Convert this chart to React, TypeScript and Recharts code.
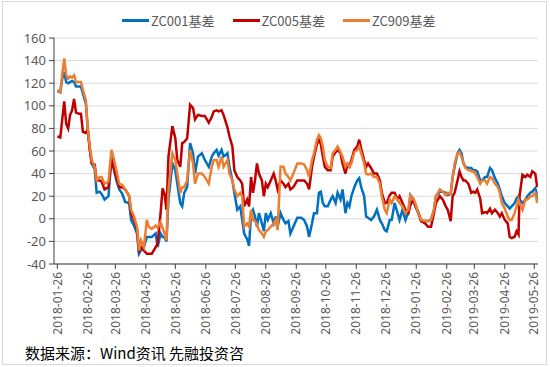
import { LineChart, Line, XAxis, YAxis, CartesianGrid } from "recharts";

// sample dates (roughly every 2-3 days), grouped by month
const dates = [
  "2018-01-26", "2018-01-29", "2018-01-31",
  "2018-02-02", "2018-02-04", "2018-02-06", "2018-02-08", "2018-02-10", "2018-02-12", "2018-02-14", "2018-02-17", "2018-02-19", "2018-02-21", "2018-02-24", "2018-02-26", "2018-02-28",
  "2018-03-02", "2018-03-05", "2018-03-07", "2018-03-10", "2018-03-12", "2018-03-15", "2018-03-19", "2018-03-22", "2018-03-24", "2018-03-27", "2018-03-30",
  "2018-04-02", "2018-04-05", "2018-04-09", "2018-04-11", "2018-04-14", "2018-04-17", "2018-04-19", "2018-04-21", "2018-04-24", "2018-04-27", "2018-04-29",
  "2018-05-02", "2018-05-06", "2018-05-08", "2018-05-11", "2018-05-13", "2018-05-15", "2018-05-17", "2018-05-19", "2018-05-23", "2018-05-26", "2018-05-28", "2018-05-31",
  "2018-06-02", "2018-06-04", "2018-06-07", "2018-06-10", "2018-06-13", "2018-06-15", "2018-06-18", "2018-06-22", "2018-06-25", "2018-06-29",
  "2018-07-02", "2018-07-04", "2018-07-07", "2018-07-09", "2018-07-12", "2018-07-14", "2018-07-18", "2018-07-20", "2018-07-23", "2018-07-25", "2018-07-28", "2018-07-31",
  "2018-08-02", "2018-08-04", "2018-08-07", "2018-08-09", "2018-08-11", "2018-08-13", "2018-08-15", "2018-08-17", "2018-08-19", "2018-08-22", "2018-08-24", "2018-08-26", "2018-08-28", "2018-08-31",
  "2018-09-03", "2018-09-05", "2018-09-07", "2018-09-10", "2018-09-13", "2018-09-15", "2018-09-18", "2018-09-20", "2018-09-23", "2018-09-27",
  "2018-10-01", "2018-10-04", "2018-10-07", "2018-10-09", "2018-10-12", "2018-10-14", "2018-10-17", "2018-10-19", "2018-10-21", "2018-10-23", "2018-10-25", "2018-10-28", "2018-10-31",
  "2018-11-02", "2018-11-05", "2018-11-07", "2018-11-10", "2018-11-12", "2018-11-15", "2018-11-17", "2018-11-19", "2018-11-21", "2018-11-24", "2018-11-27", "2018-11-29",
  "2018-12-01", "2018-12-04", "2018-12-06", "2018-12-08", "2018-12-11", "2018-12-14", "2018-12-17", "2018-12-20", "2018-12-22", "2018-12-25", "2018-12-27", "2018-12-30",
  "2019-01-01", "2019-01-04", "2019-01-07", "2019-01-09", "2019-01-12", "2019-01-15", "2019-01-18", "2019-01-20", "2019-01-23", "2019-01-25", "2019-01-28", "2019-01-31",
  "2019-02-04", "2019-02-07", "2019-02-10", "2019-02-13", "2019-02-15", "2019-02-19", "2019-02-22", "2019-02-25", "2019-02-27",
  "2019-03-02", "2019-03-04", "2019-03-06", "2019-03-09", "2019-03-11", "2019-03-13", "2019-03-15", "2019-03-17", "2019-03-20", "2019-03-23", "2019-03-25", "2019-03-27", "2019-03-29",
  "2019-04-01", "2019-04-03", "2019-04-06", "2019-04-08", "2019-04-11", "2019-04-13", "2019-04-16", "2019-04-19", "2019-04-21", "2019-04-23", "2019-04-26", "2019-04-29",
  "2019-05-01", "2019-05-03", "2019-05-06", "2019-05-08", "2019-05-10", "2019-05-11", "2019-05-14", "2019-05-17", "2019-05-19", "2019-05-22", "2019-05-24", "2019-05-27", "2019-05-28", "2019-05-29",
];

const zc001 = [
  113, 112, 124,
  130, 121, 120, 121, 122, 121, 117, 117, 117, 111, 102, 79, 62,
  49, 44, 23, 24, 22, 17, 20, 55, 46, 34, 26,
  22, 15, 14, -1, -6, -13, -31, -28, -25, -16, -16,
  -16, -13, -25, -13, -16, -16, -20, 17, 49, 43, 31, 14,
  11, 23, 28, 67, 58, 40, 55, 58, 52, 46,
  55, 58, 61, 56, 61, 55, 58, 46, 34, 23, 8, 11,
  -1, -13, -18, -24, 5, 8, 2, -7, 5, -4, -11, 5, -1, 5,
  -4, 2, -7, 5, -1, -4, -2, -13, -7, 1,
  1, -1, -7, -16, -4, 5, 5, 23, 24, 14, 11, 11, 17,
  20, 14, 23, 17, 26, 5, 14, 11, 20, 28, 34, 36,
  28, 20, 2, 1, -1, 2, 8, -1, -4, -10, -11, -1,
  -1, 14, 5, -1, 8, -1, 6, 21, 17, 11, 6, -2,
  -2, -2, -1, 8, 20, 24, 24, 23, 21,
  22, 37, 46, 58, 61, 58, 49, 46, 45, 45, 43, 43, 42,
  34, 34, 37, 37, 45, 43, 36, 31, 26, 20, 14, 11,
  9, 11, 14, 18, 20, 17, 14, 17, 20, 23, 24, 27, 24, 15,
];

const zc005 = [
  73, 72, 88,
  104, 84, 80, 92, 96, 106, 94, 93, 93, 77, 76, 79, 61,
  49, 48, 34, 34, 33, 26, 28, 52, 46, 37, 28,
  28, 26, 20, 5, -1, -9, -28, -25, -28, -31, -31,
  -31, -25, -22, 5, 27, 22, 8, 55, 82, 71, 52, 46,
  67, 68, 71, 101, 98, 88, 92, 91, 91, 85,
  90, 95, 96, 95, 96, 92, 81, 73, 64, 43, 37, 34,
  31, 11, 17, 11, 37, 23, 34, 49, 40, 34, 20, 31, 28, 34,
  40, 34, 26, 34, 31, 28, 31, 26, 28, 34,
  34, 34, 31, 26, 46, 55, 66, 70, 66, 55, 46, 43, 43,
  55, 59, 61, 58, 49, 40, 48, 46, 52, 61, 64, 70,
  62, 52, 46, 49, 45, 40, 40, 34, 23, 14, 14, 21,
  23, 23, 17, 20, 14, 8, 5, 12, 17, 12, 5, -2,
  -4, -7, -7, 5, 14, 20, 17, 11, 8,
  -2, 20, 23, 34, 42, 37, 34, 34, 31, 23, 24, 23, 26,
  18, 5, 6, 5, 9, 5, 8, 5, 2, 5, -1, -4,
  -16, -17, -16, -11, -14, 20, 39, 37, 39, 37, 42, 40, 34, 28,
];

const zc909 = [
  114, 112, 128,
  142, 127, 124, 126, 125, 127, 121, 121, 121, 114, 105, 79, 64,
  52, 46, 34, 37, 37, 31, 33, 61, 55, 43, 31,
  30, 26, 20, 8, 2, -7, -28, -19, -25, -1, -7,
  -9, -6, -8, -3, -8, -13, -19, 26, 58, 52, 40, 23,
  28, 28, 34, 61, 49, 31, 40, 40, 37, 31,
  46, 52, 52, 46, 55, 46, 52, 40, 34, 26, 20, 23,
  20, -7, -4, -7, 8, -1, -2, -5, -10, -13, -16, -11, -10, -7,
  -4, -1, -10, 46, 46, 40, 37, 34, 40, 49,
  49, 48, 43, 37, 52, 58, 70, 74, 71, 64, 52, 46, 45,
  58, 61, 64, 59, 55, 46, 49, 46, 49, 59, 61, 64,
  58, 49, 40, 39, 40, 37, 37, 31, 20, 8, 5, 17,
  14, 20, 17, 14, 11, 5, 8, 21, 18, 14, 5, -1,
  -2, -2, -1, 8, 20, 26, 24, 21, 23,
  22, 37, 49, 58, 59, 55, 49, 45, 43, 42, 42, 40, 37,
  31, 34, 34, 31, 37, 36, 31, 28, 23, 14, 9, 2,
  -1, -1, 5, 11, 17, 14, 8, 17, 17, 20, 20, 23, 20, 14,
];

const tickLabels = [
  "2018-01-26", "2018-02-26", "2018-03-26", "2018-04-26", "2018-05-26", "2018-06-26",
  "2018-07-26", "2018-08-26", "2018-09-26", "2018-10-26", "2018-11-26", "2018-12-26",
  "2019-01-26", "2019-02-26", "2019-03-26", "2019-04-26", "2019-05-26",
];

const yTicks = [-40, -20, 0, 20, 40, 60, 80, 100, 120, 140, 160];

const seriesNames = ["ZC001基差", "ZC005基差", "ZC909基差"];
const colors = ["#0070C0", "#C00000", "#ED7D31"];

const BASE = Date.UTC(2018, 0, 26);
const toDay = (s: string) => {
  const [y, m, d] = s.split("-").map(Number);
  return (Date.UTC(y, m - 1, d) - BASE) / 86400000;
};

const data = dates.map((d, i) => ({
  day: toDay(d),
  zc001: zc001[i],
  zc005: zc005[i],
  zc909: zc909[i],
}));
const xTicks = tickLabels.map(toDay);

const axisColor = "#404040";
const textColor = "#595959";

function DateTick({ x, y, payload }: any) {
  const label = tickLabels[xTicks.indexOf(payload.value)] ?? "";
  return (
    <g transform={`translate(${x},${y})`}>
      <text transform="rotate(-90)" textAnchor="end" dy="0.35em" fill={textColor} fontSize={12} fontFamily="Noto Sans">
        {label}
      </text>
    </g>
  );
}

export default function App() {
  return (
    <div style={{ position: "relative", width: 550, height: 367, background: "#fff", fontFamily: "'Noto Sans CJK SC', sans-serif" }}>
      <style>{`body{margin:0}`}</style>
      <div style={{ position: "absolute", left: 2, top: 1, width: 543, height: 362, border: "1px solid #d9d9d9" }} />
      <div style={{ position: "absolute", left: 122, top: 11, display: "flex", alignItems: "center", fontSize: 13, color: textColor, whiteSpace: "nowrap" }}>
        {seriesNames.map((n, i) => (
          <div key={n} style={{ display: "flex", alignItems: "center", marginRight: 18 }}>
            <span style={{ display: "inline-block", width: 27, height: 3, background: colors[i], marginRight: 2 }} />
            <span>{n}</span>
          </div>
        ))}
      </div>
      <LineChart width={550} height={367} data={data} margin={{ top: 38, right: 12, left: 0, bottom: 0 }} style={{ position: "absolute", left: 0, top: 0 }}>
        <CartesianGrid vertical={false} stroke="#d9d9d9" strokeWidth={1} />
        <XAxis
          dataKey="day"
          type="number"
          domain={[-3.4, 488.8]}
          ticks={xTicks}
          interval={0}
          height={103}
          tick={<DateTick />}
          tickLine={{ stroke: axisColor }}
          axisLine={{ stroke: axisColor }}
          tickSize={5}
          tickMargin={3}
          allowDataOverflow
        />
        <YAxis
          type="number"
          domain={[-40, 160]}
          ticks={yTicks}
          interval={0}
          width={54}
          tick={{ fill: textColor, fontSize: 13, fontFamily: "Noto Sans" }}
          tickLine={{ stroke: axisColor }}
          axisLine={{ stroke: axisColor }}
          tickSize={5}
          tickMargin={3}
        />
        <Line type="linear" dataKey="zc001" name={seriesNames[0]} stroke={colors[0]} strokeWidth={2.5} dot={false} isAnimationActive={false} />
        <Line type="linear" dataKey="zc005" name={seriesNames[1]} stroke={colors[1]} strokeWidth={2.5} dot={false} isAnimationActive={false} />
        <Line type="linear" dataKey="zc909" name={seriesNames[2]} stroke={colors[2]} strokeWidth={2.5} dot={false} isAnimationActive={false} />
      </LineChart>
      <div style={{ position: "absolute", left: 25, top: 342, fontSize: 15, color: "#000", whiteSpace: "nowrap" }}>
        数据来源：Wind资讯 先融投资咨
      </div>
    </div>
  );
}
